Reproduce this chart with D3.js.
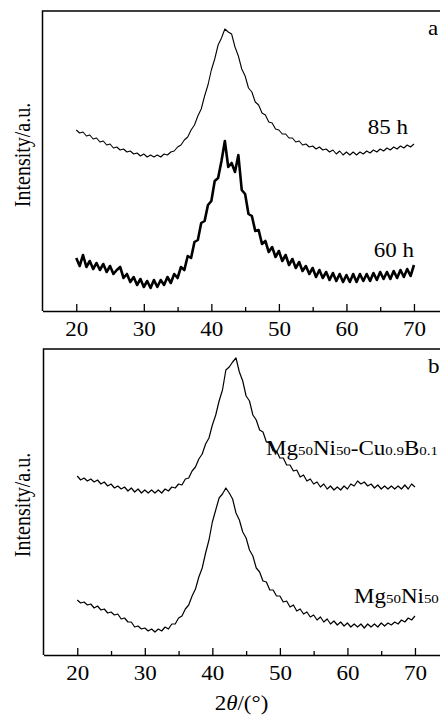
<!DOCTYPE html>
<html>
<head>
<meta charset="utf-8">
<script src="https://cdn.jsdelivr.net/npm/d3@7"></script>
<style>
  body { margin: 0; background: #fff; }
  svg { display: block; }
</style>
</head>
<body>
<div id="GRAPH_SVG"></div>
<script>
const WIDTH = 440;
const HEIGHT = 718;
const FONT = "'Liberation Serif', 'Times New Roman', serif";
// the original figure is a little wider than tall in its lettering
const STRETCH = "scale(1.15,1)";

// 2theta sampling, degrees (same grid for every scan)
const twoTheta = [
  20, 20.5, 21, 21.5, 22, 22.5, 23, 23.5, 24, 24.5,
  25, 25.5, 26, 26.5, 27, 27.5, 28, 28.5, 29, 29.5,
  30, 30.5, 31, 31.5, 32, 32.5, 33, 33.5, 34, 34.5,
  35, 35.5, 36, 36.5, 37, 37.5, 38, 38.5, 39, 39.5,
  40, 40.5, 41, 41.5, 42, 42.5, 43, 43.5, 44, 44.5,
  45, 45.5, 46, 46.5, 47, 47.5, 48, 48.5, 49, 49.5,
  50, 50.5, 51, 51.5, 52, 52.5, 53, 53.5, 54, 54.5,
  55, 55.5, 56, 56.5, 57, 57.5, 58, 58.5, 59, 59.5,
  60, 60.5, 61, 61.5, 62, 62.5, 63, 63.5, 64, 64.5,
  65, 65.5, 66, 66.5, 67, 67.5, 68, 68.5, 69, 69.5,
  70];

// panel a : milling time (intensity a.u., stacked)
const scan85h = [
  181, 178, 179, 175, 176, 172, 173, 169, 170, 166,
  167, 163, 164, 161, 162, 159, 160, 157, 158, 155,
  157, 154, 156, 154, 156, 154, 157, 156, 159, 160,
  164, 166, 171, 174, 181, 186, 195, 202, 215, 226,
  241, 252, 266, 273, 282, 279, 277, 264, 255, 242,
  235, 223, 219, 209, 206, 198, 196, 189, 188, 182,
  181, 177, 177, 173, 173, 169, 170, 166, 167, 164,
  165, 162, 164, 161, 162, 159, 161, 157, 160, 156,
  159, 156, 159, 156, 159, 157, 160, 158, 161, 159,
  162, 160, 163, 161, 164, 162, 165, 163, 166, 164,
  167];
const scan60h = [
  53, 45, 56, 44, 50, 42, 48, 41, 47, 39,
  45, 37, 41, 44, 33, 37, 29, 34, 26, 32,
  24, 30, 23, 31, 24, 31, 26, 34, 28, 37,
  33, 44, 41, 55, 53, 69, 71, 88, 90, 106,
  110, 130, 133, 150, 170, 144, 148, 139, 156, 121,
  117, 97, 95, 80, 81, 67, 70, 59, 64, 54,
  60, 50, 56, 46, 52, 43, 49, 40, 45, 37,
  43, 34, 41, 33, 39, 31, 38, 30, 37, 29,
  36, 29, 37, 29, 37, 30, 37, 30, 38, 31,
  39, 32, 39, 32, 40, 33, 41, 34, 42, 35,
  46];

// panel b : composition
const scanCuB = [
  179, 175, 177, 174, 176, 173, 175, 171, 173, 169,
  171, 167, 169, 166, 168, 164, 167, 163, 166, 162,
  165, 162, 165, 162, 165, 162, 166, 164, 168, 167,
  171, 170, 176, 177, 184, 188, 196, 201, 211, 217,
  230, 240, 254, 265, 285, 288, 293, 297, 283, 274,
  259, 254, 240, 235, 225, 223, 213, 212, 204, 204,
  197, 197, 190, 190, 184, 185, 178, 180, 174, 176,
  171, 173, 168, 171, 166, 169, 165, 168, 165, 169,
  166, 171, 169, 174, 171, 173, 169, 171, 167, 170,
  166, 169, 166, 169, 166, 169, 166, 170, 166, 171,
  168];
const scanMgNi = [
  55, 52, 53, 50, 51, 47, 49, 45, 46, 42,
  43, 40, 41, 36, 37, 33, 33, 28, 29, 26,
  27, 24, 26, 23, 26, 24, 28, 26, 31, 31,
  37, 39, 46, 50, 59, 66, 78, 87, 102, 115,
  133, 145, 157, 161, 167, 162, 156, 142, 135, 123,
  117, 105, 99, 87, 83, 74, 73, 65, 65, 59,
  59, 53, 54, 48, 50, 44, 46, 41, 43, 38,
  40, 35, 38, 33, 36, 31, 34, 30, 33, 29,
  32, 28, 31, 28, 31, 27, 31, 28, 31, 28,
  32, 29, 32, 30, 33, 31, 35, 33, 37, 35,
  39];

const xTicks = [20, 30, 40, 50, 60, 70];
const xMinorTicks = [25, 35, 45, 55, 65];
const X_DOMAIN = [15, 75];

const PANELS = [
  { tag: "a", left: 42.5, top: 11, bottom: 311, ymax: 300, yLabelY: 155,
    series: [{ values: scan85h, width: 1.1 }, { values: scan60h, width: 2.6 }],
    notes: [{ text: "85 h", x: 408, y: 134 }, { text: "60 h", x: 414, y: 257 }] },
  { tag: "b", left: 43.5, top: 349, bottom: 655, ymax: 306, yLabelY: 505,
    series: [{ values: scanCuB, width: 1.2 }, { values: scanMgNi, width: 1.2 }],
    notes: [] }
];

const svg = d3.select("#GRAPH_SVG")
  .append("svg")
  .attr("width", WIDTH)
  .attr("height", HEIGHT)
  .style("font-family", FONT);

svg.append("rect")
  .attr("width", WIDTH)
  .attr("height", HEIGHT)
  .attr("fill", "#fff");

function drawPanel(p) {
  const xScale = d3.scaleLinear().domain(X_DOMAIN).range([p.left, p.left + 6.754 * 60]);
  const yScale = d3.scaleLinear().domain([0, p.ymax]).range([p.bottom, p.top]);
  const g = svg.append("g");

  // frame (left + top, right side runs off the page like the original)
  g.append("path")
    .attr("d", "M" + xScale(75) + "," + p.top + "H" + xScale(15) + "V" + p.bottom)
    .attr("fill", "none")
    .attr("stroke", "#000")
    .attr("stroke-width", 1.5);

  // X AXIS, ticks point inward
  const ax = g.append("g")
    .attr("transform", "translate(0," + p.bottom + ")")
    .call(d3.axisBottom(xScale)
      .tickValues(xTicks)
      .tickSizeInner(-7)
      .tickSizeOuter(0)
      .tickPadding(11)
      .tickFormat(d3.format("d")))
    .attr("font-family", FONT)
    .attr("font-size", 20);
  ax.select(".domain").attr("stroke-width", 1.5);
  ax.selectAll(".tick line").attr("stroke-width", 1.3);
  ax.selectAll(".tick text").attr("fill", "#000").attr("transform", STRETCH);

  const minor = g.append("g")
    .attr("transform", "translate(0," + p.bottom + ")")
    .call(d3.axisBottom(xScale)
      .tickValues(xMinorTicks)
      .tickSize(-4)
      .tickFormat(""));
  minor.select(".domain").remove();
  minor.selectAll(".tick line").attr("stroke-width", 1.3);

  // scans
  p.series.forEach(function(s) {
    const line = d3.line()
      .x(function(d, i) { return xScale(twoTheta[i]); })
      .y(function(d) { return yScale(d); });
    g.append("path")
      .datum(s.values)
      .attr("d", line)
      .attr("fill", "none")
      .attr("stroke", "#000")
      .attr("stroke-width", s.width)
      .attr("stroke-linejoin", "round");
  });

  // panel letter
  g.append("text")
    .attr("transform", "translate(428," + (p.top + 24) + ") " + STRETCH)
    .attr("font-size", 20)
    .text(p.tag);

  p.notes.forEach(function(n) {
    g.append("text")
      .attr("transform", "translate(" + n.x + "," + n.y + ") " + STRETCH)
      .attr("text-anchor", "end")
      .attr("font-size", 20)
      .text(n.text);
  });

  // Y label
  g.append("text")
    .attr("transform", "translate(29.5," + p.yLabelY + ") " + STRETCH + " rotate(-90)")
    .attr("text-anchor", "middle")
    .attr("font-size", 20)
    .text("Intensity/a.u.");
}

PANELS.forEach(drawPanel);

// chemical formula labels of panel b
function formula(x, y, parts) {
  const t = svg.append("text")
    .attr("transform", "translate(" + x + "," + y + ") " + STRETCH)
    .attr("font-size", 20);
  parts.forEach(function(pt) {
    t.append("tspan")
      .attr("font-size", pt[1] ? 13 : 20)
      .text(pt[0]);
  });
}
formula(266, 455, [["Mg", 0], ["50", 1], ["Ni", 0], ["50", 1], ["-Cu", 0], ["0.9", 1], ["B", 0], ["0.1", 1]]);
formula(354, 603, [["Mg", 0], ["50", 1], ["Ni", 0], ["50", 1]]);

// X title
const xt = svg.append("text")
  .attr("transform", "translate(241.5,710) " + STRETCH)
  .attr("text-anchor", "middle")
  .attr("font-size", 20);
xt.append("tspan").text("2");
xt.append("tspan").attr("font-style", "italic").text("θ");
xt.append("tspan").text("/(°)");
</script>
</body>
</html>
